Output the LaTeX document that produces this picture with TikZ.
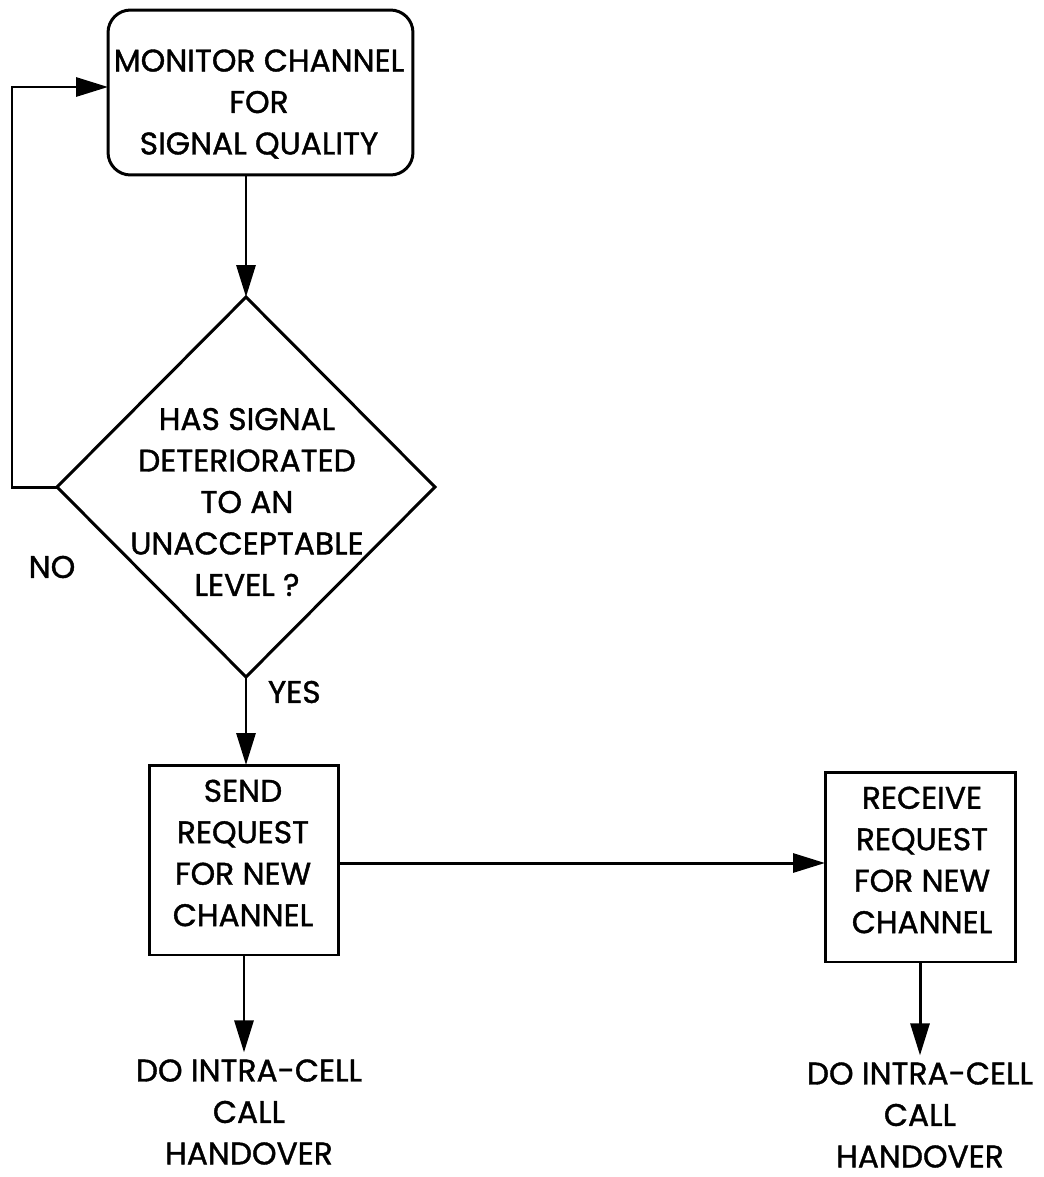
\documentclass[tikz,border=0pt]{standalone}
\usepackage{fontspec}
\setmainfont{Poppins}[FakeBold=1.2,AutoFakeBold=1.2]
\usetikzlibrary{arrows.meta,shapes.geometric}
\begin{document}
\begin{tikzpicture}[x=0.02cm,y=-0.02cm,
  every node/.style={inner sep=0pt, outer sep=0pt},
  shapebox/.style={draw, line width=1.7pt, rectangle},
  txt/.style={align=center, font=\fontsize{17.8}{23.6}\selectfont\bfseries},
  arr/.style={line width=1.7pt, -{Triangle[length=0.64cm,width=0.38cm]}},
  ln/.style={line width=1.7pt}]
\useasboundingbox (0,0) rectangle (1044,1177);
% start box
\node[shapebox, rounded corners=0.45cm, minimum width=6.1cm, minimum height=3.3cm] (mon) at (260.5,92.5) {};
\node[txt] (montext) at (259,104) {MONITOR CHANNEL\\FOR\\SIGNAL QUALITY};
% decision
\node[draw, diamond, line width=1.7pt, minimum width=7.56cm, minimum height=7.6cm] (dec) at (246,487) {};
\node[txt] (dectext) at (247,502) {HAS SIGNAL\\DETERIORATED\\TO AN\\UNACCEPTABLE\\LEVEL ?};
% boxes
\node[shapebox, minimum width=3.8cm, minimum height=3.8cm] (send) at (244,860) {};
\node[txt] (sendtext) at (243,853) {SEND\\REQUEST\\FOR NEW\\CHANNEL};
\node[shapebox, minimum width=3.82cm, minimum height=3.8cm] (recv) at (920.5,867) {};
\node[txt] (recvtext) at (922,860) {RECEIVE\\REQUEST\\FOR NEW\\CHANNEL};
% end texts
\node[txt] (do1) at (249,1112) {DO INTRA-CELL\\CALL\\HANDOVER};
\node[txt] (do2) at (920,1115) {DO INTRA-CELL\\CALL\\HANDOVER};
% labels
\node[txt] (no) at (52,567) {NO};
\node[txt, anchor=west] (yes) at (268,692) {YES};
% coordinates
\coordinate (loopx) at (12,87);
\coordinate (hy) at (0,863);
% connectors
\draw[arr] (dec.north |- mon.south) -- (dec.north);
\draw[arr] (dec.west) -- (dec.west -| loopx) -- (loopx) -- (mon.west |- loopx);
\draw[arr] (dec.south) -- (dec.south |- send.north);
\draw[arr] (send.east |- hy) -- (recv.west |- hy);
\draw[arr, shorten >=0.14cm] (send.south) -- (send.south |- do1.north);
\draw[arr, shorten >=0.14cm] (recv.south -| do2.north) -- (do2.north);
\end{tikzpicture}
\end{document}
